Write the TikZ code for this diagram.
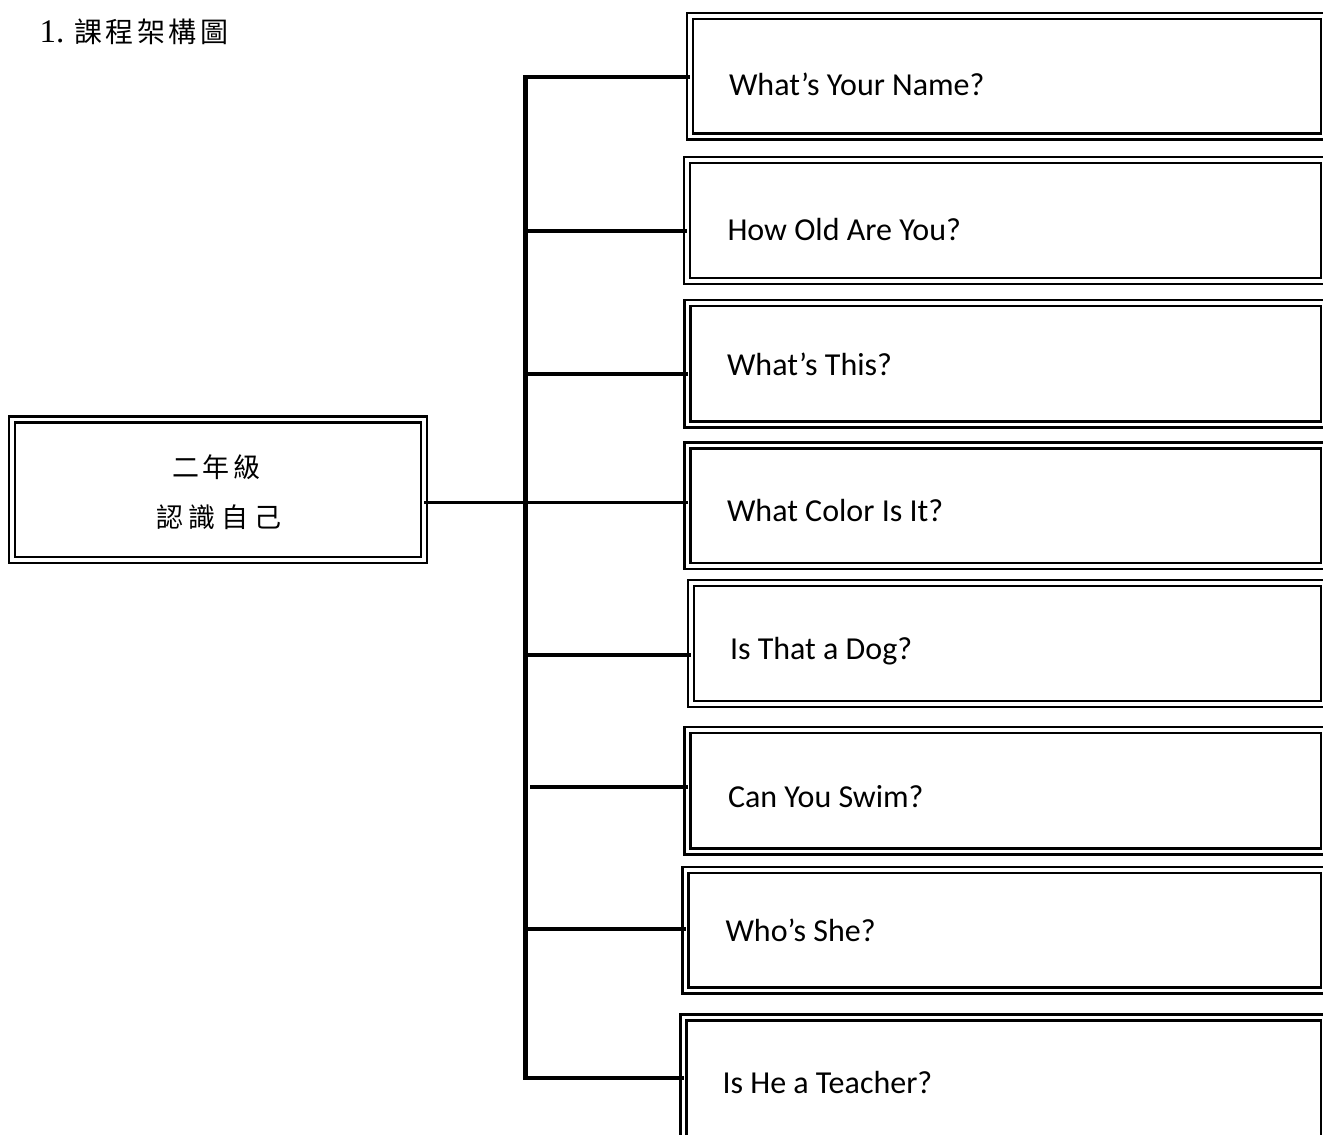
\documentclass[tikz,border=0pt]{standalone}
\usepackage{fontspec}
\newfontfamily\carl{Carlito}
\newfontfamily\cjk{Noto Sans CJK TC}
\newfontfamily\tnr{Liberation Serif}
\begin{document}
\begin{tikzpicture}[x=1pt,y=-1pt,
  dbox/.style={draw, line width=2.2pt, double, double distance=3.8pt, rectangle,
    inner sep=0pt, outer sep=0pt, anchor=north west},
  qtext/.style={anchor=base west, inner sep=0pt, outer sep=0pt,
    font=\carl\fontsize{32pt}{36pt}\selectfont},
  ctext/.style={anchor=base, inner sep=0pt, outer sep=0pt,
    font=\cjk\fontsize{27pt}{32pt}\selectfont},
  conn/.style={line width=4pt},
  trunkline/.style={line width=4.5pt},
  mainconn/.style={line width=3pt}]
\clip (0,0) rectangle (1323,1135);
\fill[white] (0,0) rectangle (1323,1135);

% title
\node[anchor=base west, inner sep=0pt] (title) at (39.5,42)
  {\tnr\fontsize{33pt}{38pt}\selectfont 1.\kern10pt{\cjk\fontsize{28pt}{32pt}\selectfont 課\kern3.5pt 程\kern3.5pt 架\kern3.5pt 構\kern3.5pt 圖}};

% left box
\node[dbox, minimum width=412pt, minimum height=140.5pt] (L) at (12,419.5) {};
\node[ctext] (L1) at (216.5,477) {二\kern3.5pt 年\kern3.5pt 級};
\node[ctext] (L2) at (219,527) {認\kern6pt 識\kern6pt 自\kern6pt 己};

% right boxes
\node[dbox, minimum width=634pt,   minimum height=120.75pt] (b1) at (690,15.75) {};
\node[dbox, minimum width=636.75pt,minimum height=121.25pt] (b2) at (687.25,159.75) {};
\node[dbox, minimum width=636.5pt, minimum height=121.5pt]  (b3) at (687.5,303) {};
\node[dbox, minimum width=636.5pt, minimum height=120.5pt]  (b4) at (687.5,445.5) {};
\node[dbox, minimum width=633.25pt,minimum height=121.25pt] (b5) at (690.75,582.75) {};
\node[dbox, minimum width=636.5pt, minimum height=121.75pt] (b6) at (687.5,729.75) {};
\node[dbox, minimum width=638.5pt, minimum height=120.25pt] (b7) at (685.5,870.25) {};
\node[dbox, minimum width=640.5pt, minimum height=160pt]    (b8) at (683.5,1017.5) {};

\node[qtext] (t1) at (729,95)   {What’s Your Name?};
\node[qtext] (t2) at (727.5,240) {How Old Are You?};
\node[qtext] (t3) at (727,375)  {What’s This?};
\node[qtext] (t4) at (727,521.5) {What Color Is It?};
\node[qtext] (t5) at (730,659)  {Is That a Dog?};
\node[qtext] (t6) at (728,807)  {Can You Swim?};
\node[qtext] (t7) at (725.5,941.5) {Who’s She?};
\node[qtext] (t8) at (722.5,1093) {Is He a Teacher?};

% connectors
\coordinate (jtop) at (525.5,75);
\coordinate (jbot) at (525.5,1080);
\coordinate (j1) at (523.5,77);
\coordinate (j2) at (525.5,231);
\coordinate (j3) at (525.5,374);
\coordinate (j4) at (525.5,502);
\coordinate (j5) at (525.5,654.5);
\coordinate (j6) at (530,787);
\coordinate (j7) at (525.5,929);
\coordinate (j8) at (523.5,1078);

\draw[trunkline] (jtop) -- (jbot);
\draw[conn] (j1) -- (j1 -| b1.west);
\draw[conn] (j2) -- (j2 -| b2.west);
\draw[conn] (j3) -- (j3 -| b3.west);
\draw[mainconn] (L.east |- j4) -- (j4 -| b4.west);
\draw[conn] (j5) -- (j5 -| b5.west);
\draw[conn] (j6) -- (j6 -| b6.west);
\draw[conn] (j7) -- (j7 -| b7.west);
\draw[conn] (j8) -- (j8 -| b8.west);
\end{tikzpicture}
\end{document}
